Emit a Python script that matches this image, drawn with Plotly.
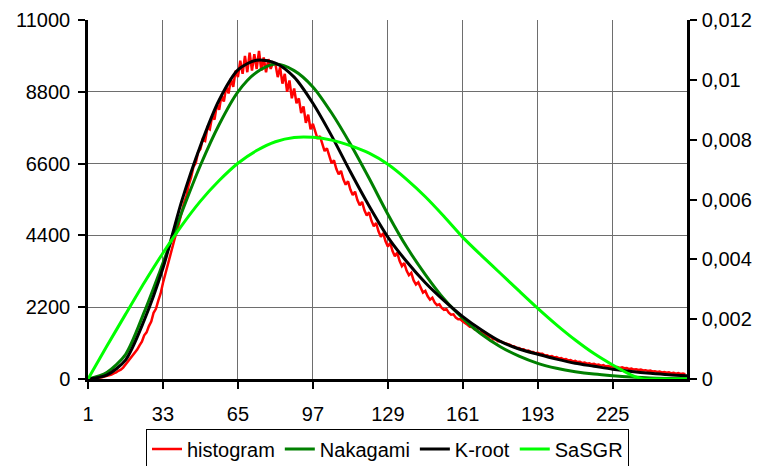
import plotly.graph_objects as go

# ---------------- data ----------------
hist_x = list(range(1, 257))
hist_counts = [
    0, 6, 10, 22, 28, 45, 52, 74, 88, 118, 136, 175, 200, 252, 284, 348,
    440, 510, 600, 690, 810, 900, 1030, 1140, 1340, 1430, 1620, 1760, 2030, 2150, 2400, 2620,
    2940, 3230, 3480, 3760, 4020, 4300, 4540, 4850, 5080, 5400, 5600, 5950, 6180, 6500, 6620, 6950,
    7050, 7350, 7300, 7700, 7650, 8050, 7950, 8400, 8250, 8700, 8500, 8950, 8750, 9200, 8950, 9450,
    9250, 9750, 9350, 9900, 9400, 10000, 9450, 9950, 9500, 10050, 9450, 9850, 9400, 9800, 9500, 9700,
    9650, 9250, 9550, 9050, 9350, 8800, 9150, 8600, 8900, 8450, 8600, 8150, 8350, 7850, 8100, 7650,
    7820, 7545, 7360, 7445, 7170, 6985, 7070, 6795, 6610, 6700, 6440, 6270, 6375, 6120, 5955, 6060,
    5805, 5640, 5740, 5485, 5320, 5425, 5170, 5010, 5110, 4850, 4680, 4780, 4525, 4360, 4470, 4220,
    4060, 4170, 3920, 3760, 3870, 3620, 3460, 3550, 3320, 3180, 3250, 3020, 2895, 2960, 2775, 2650,
    2700, 2535, 2430, 2490, 2345, 2260, 2290, 2180, 2120, 2140, 2030, 1970, 1980, 1880, 1830, 1830,
    1760, 1720, 1660, 1600, 1590, 1520, 1510, 1430, 1430, 1370, 1350, 1290, 1290, 1220, 1220, 1160,
    1160, 1120, 1100, 1060, 1050, 1010, 1000, 950, 950, 910, 910, 860, 870, 830, 830, 790,
    800, 770, 770, 720, 730, 690, 700, 660, 670, 630, 640, 600, 610, 570, 580, 540,
    555, 520, 530, 490, 505, 470, 480, 450, 465, 430, 440, 410, 425, 390, 400, 375,
    390, 360, 370, 340, 355, 330, 335, 305, 320, 290, 300, 275, 290, 260, 270, 245,
    260, 230, 240, 215, 230, 200, 215, 190, 205, 175, 190, 165, 185, 155, 170, 150,
]

pdf_x = [1, 9, 17, 25, 33, 41, 49, 57, 65, 73, 81, 89, 97, 105, 113, 121, 129,
         137, 145, 153, 161, 169, 177, 185, 193, 201, 209, 217, 225, 233, 241, 249, 257]
nakagami_pdf = [0, 0.000218, 0.000818, 0.002236, 0.003873, 0.005564, 0.007145, 0.008509,
                0.0096, 0.010255, 0.010527, 0.010309, 0.009764, 0.008891, 0.007855, 0.006709,
                0.005509, 0.004418, 0.003491, 0.002673, 0.002029, 0.001495, 0.00108, 0.000764,
                0.000524, 0.00036, 0.000245, 0.000164, 0.000109, 0.0000655, 0.0000327,
                0.0000164, 0.0000055]
kroot_pdf = [0, 0.000131, 0.000633, 0.001964, 0.003709, 0.005945, 0.0078, 0.009327,
             0.010331, 0.010658, 0.01056, 0.010091, 0.009218, 0.008127, 0.006927, 0.005782,
             0.004745, 0.003927, 0.003218, 0.002618, 0.002084, 0.001636, 0.001255, 0.001004,
             0.000829, 0.000665, 0.000524, 0.000426, 0.000327, 0.000251, 0.000191, 0.000142,
             0.000109]
sasgr_x = [1, 9, 17, 25, 33, 41, 49, 57, 65, 73, 81, 89, 97, 105, 113, 121, 129,
           137, 145, 153, 161, 169, 177, 185, 193, 201, 209, 217, 225, 233, 238, 245, 257]
sasgr_pdf = [0, 0.001091, 0.00216, 0.003218, 0.004211, 0.005127, 0.005945, 0.006633,
             0.007211, 0.007636, 0.007931, 0.008073, 0.008078, 0.007985, 0.0078, 0.007549,
             0.007178, 0.006676, 0.006093, 0.005433, 0.004735, 0.004124, 0.003535, 0.002945,
             0.002362, 0.001811, 0.001304, 0.000851, 0.000469, 0.000131, 0, 0, 0]

x_tickvals = [1, 33, 65, 97, 129, 161, 193, 225]
x_ticktext = ["1", "33", "65", "97", "129", "161", "193", "225"]
y1_tickvals = [0, 2200, 4400, 6600, 8800, 11000]
y1_ticktext = ["0", "2200", "4400", "6600", "8800", "11000"]
y2_tickvals = [0, 0.002, 0.004, 0.006, 0.008, 0.010, 0.012]
y2_ticktext = ["0", "0,002", "0,004", "0,006", "0,008", "0,01", "0,012"]

FONT = "Liberation Sans, Arial, sans-serif"
XR = [1, 256.7]
Y1R = [0, 11000]
Y2R = [0, 0.012]

fig = go.Figure()
fig.add_trace(go.Scatter(x=hist_x, y=hist_counts, mode="lines", name="histogram",
                         line=dict(color="#FF0000", width=2.5), yaxis="y"))
fig.add_trace(go.Scatter(x=pdf_x, y=nakagami_pdf, mode="lines", name="Nakagami",
                         line=dict(color="#008000", width=3, shape="spline", smoothing=0.8), yaxis="y2"))
fig.add_trace(go.Scatter(x=pdf_x, y=kroot_pdf, mode="lines", name="K-root",
                         line=dict(color="#000000", width=3, shape="spline", smoothing=0.8), yaxis="y2"))
fig.add_trace(go.Scatter(x=sasgr_x, y=sasgr_pdf, mode="lines", name="SaSGR",
                         line=dict(color="#00FF00", width=3, shape="spline", smoothing=0.6), yaxis="y2"))

tickfont = dict(family=FONT, size=20, color="#000000")

# the page body adds an 8px offset; margins compensate for it
fig.update_layout(
    width=760, height=466,
    margin=dict(l=80, r=81, t=12, b=95, autoexpand=False),
    paper_bgcolor="white", plot_bgcolor="white",
    font=dict(family=FONT, size=20, color="#000000"),
    showlegend=True,
    legend=dict(orientation="h", x=0.5, xanchor="center", y=-0.138, yanchor="top",
                bordercolor="#000000", borderwidth=1, bgcolor="white",
                font=dict(family=FONT, size=20, color="#000000"),
                itemwidth=30, tracegroupgap=0),
    xaxis=dict(range=XR, tickmode="array", tickvals=x_tickvals, ticktext=x_ticktext,
               showgrid=True, gridcolor="#6e6e6e", gridwidth=1, zeroline=False,
               showline=True, linecolor="#000000", linewidth=2.5,
               ticks="outside", ticklen=7, tickwidth=2, tickcolor="#000000",
               tickfont=tickfont, anchor="y", ticklabelstandoff=8, automargin=False),
    xaxis2=dict(range=XR, overlaying="x", anchor="y", tickmode="array", tickvals=x_tickvals,
                showticklabels=False, showgrid=False, zeroline=False, showline=False,
                ticks="inside", ticklen=7, tickwidth=2, tickcolor="#000000"),
    yaxis=dict(range=Y1R, tickmode="array", tickvals=y1_tickvals, ticktext=y1_ticktext,
               showgrid=True, gridcolor="#6e6e6e", gridwidth=1, zeroline=False,
               showline=True, linecolor="#000000", linewidth=2.5,
               ticks="outside", ticklen=7, tickwidth=2, tickcolor="#000000",
               tickfont=tickfont, ticklabelstandoff=4, automargin=False),
    yaxis2=dict(range=Y2R, overlaying="y", side="right", tickmode="array",
                tickvals=y2_tickvals, ticktext=y2_ticktext,
                showgrid=False, zeroline=False,
                showline=True, linecolor="#000000", linewidth=2.5,
                ticks="outside", ticklen=7, tickwidth=2, tickcolor="#000000",
                tickfont=tickfont, ticklabelstandoff=1, automargin=False),
    yaxis3=dict(range=Y1R, overlaying="y", side="left", tickmode="array", tickvals=y1_tickvals,
                showticklabels=False, showgrid=False, zeroline=False, showline=False,
                ticks="inside", ticklen=7, tickwidth=2, tickcolor="#000000"),
    yaxis4=dict(range=Y2R, overlaying="y", side="right", tickmode="array", tickvals=y2_tickvals,
                showticklabels=False, showgrid=False, zeroline=False, showline=False,
                ticks="inside", ticklen=7, tickwidth=2, tickcolor="#000000"),
)

fig.write_html("out.html")
